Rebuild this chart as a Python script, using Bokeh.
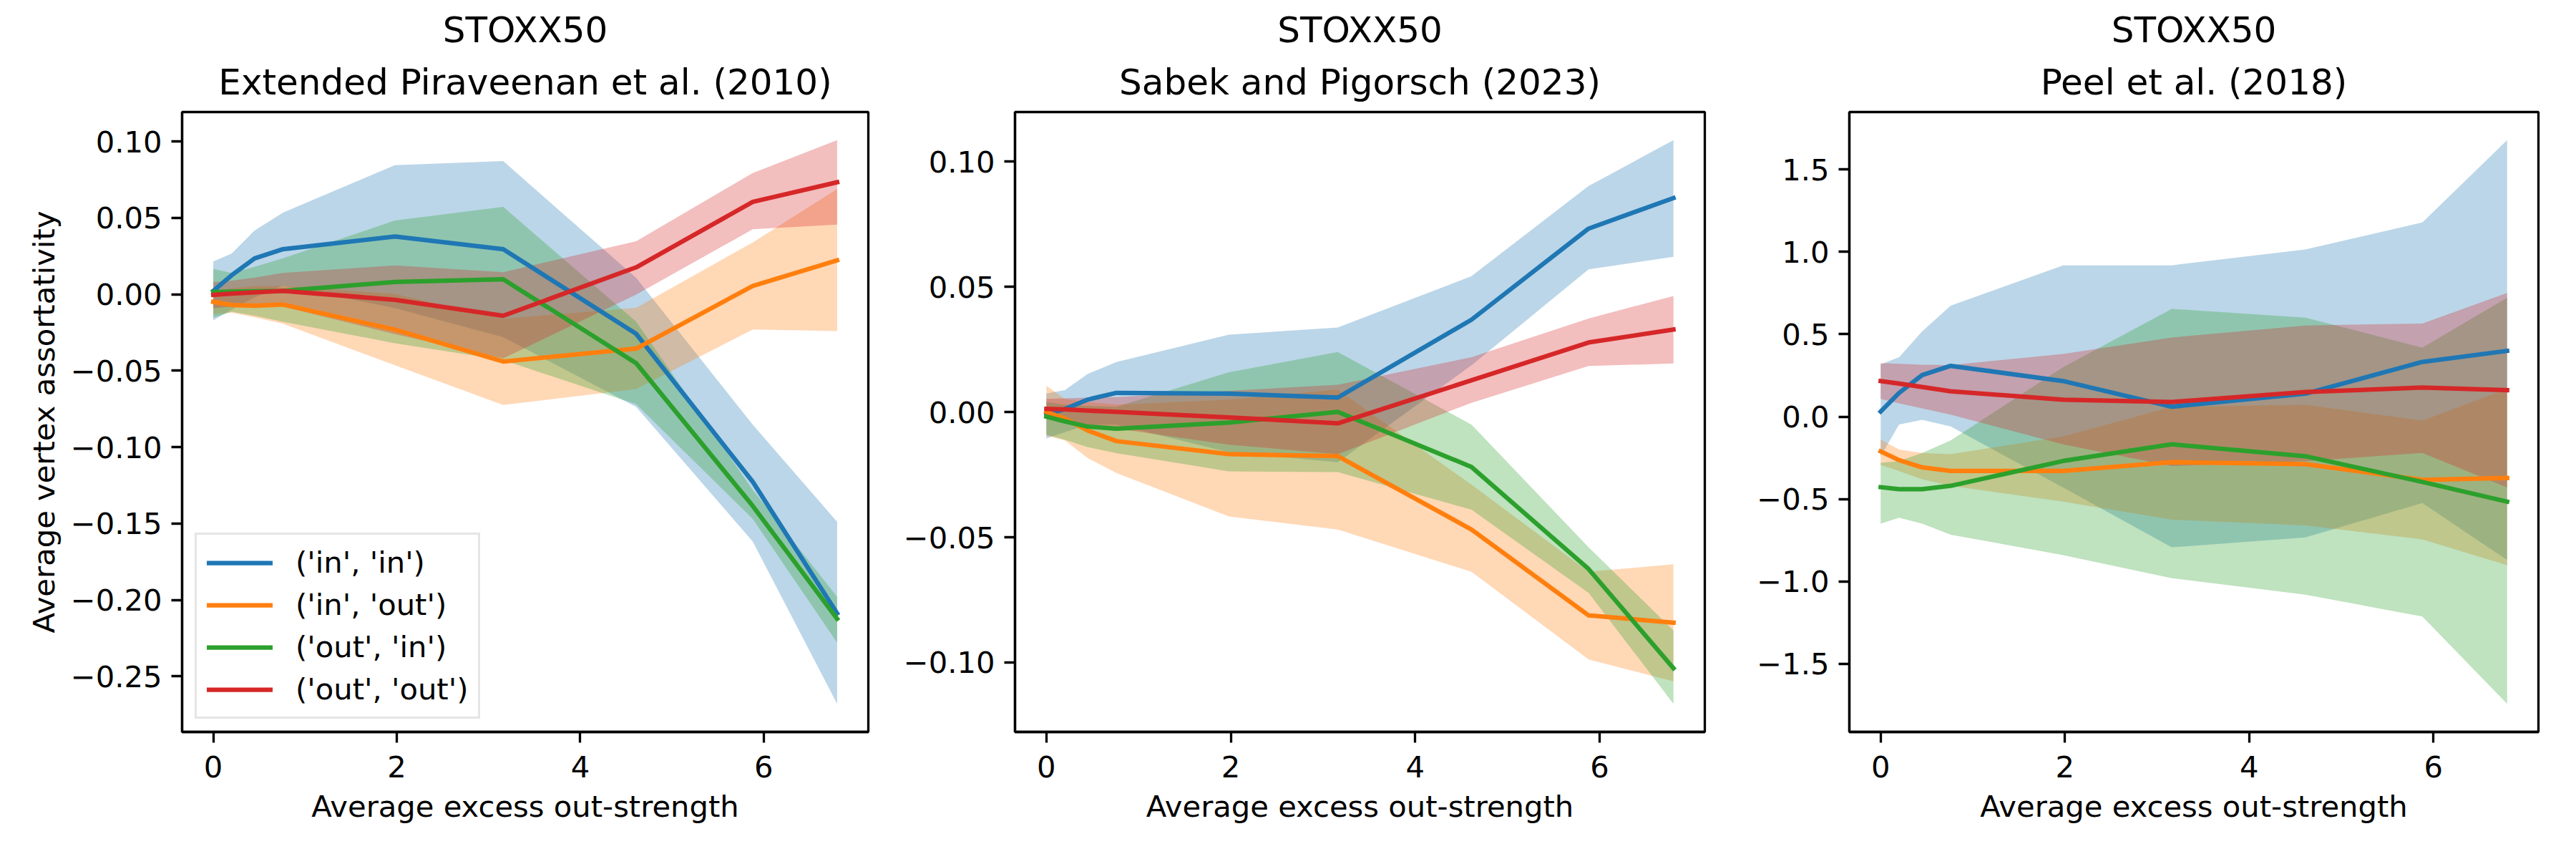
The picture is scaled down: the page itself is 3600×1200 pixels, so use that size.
from bokeh.plotting import figure
from bokeh.layouts import row
from bokeh.models import Range1d, FixedTicker, Legend, LegendItem, Title
from bokeh.embed import file_html
from bokeh.resources import INLINE

FONT = "DejaVu Sans"

# ---------------- data ----------------
x_strength = [0.0, 0.2, 0.45, 0.76, 1.98, 3.16, 4.61, 5.88, 6.80]
series_labels = ["('in', 'in')", "('in', 'out')", "('out', 'in')", "('out', 'out')"]
colors = ["#1f77b4", "#ff7f0e", "#2ca02c", "#d62728"]
x_ticks = [0, 2, 4, 6]
x_label = "Average excess out-strength"
y_label = "Average vertex assortativity"

main_title = "STOXX50"
sub_titles = ["Extended Piraveenan et al. (2010)",
              "Sabek and Pigorsch (2023)",
              "Peel et al. (2018)"]

# Panel 1: Extended Piraveenan et al. (2010)
pir_in_in_mean = [0.0023, 0.0125, 0.0235, 0.0296, 0.0379, 0.0296, -0.0259, -0.1227, -0.2088]
pir_in_in_lo = [-0.017, -0.010, -0.002, 0.0057, -0.009, -0.028, -0.0737, -0.1618, -0.268]
pir_in_in_hi = [0.0215, 0.0267, 0.0418, 0.0535, 0.0846, 0.0872, 0.0107, -0.0853, -0.1489]
pir_in_out_mean = [-0.0049, -0.007, -0.0075, -0.0067, -0.0231, -0.044, -0.0355, 0.0055, 0.0223]
pir_in_out_lo = [-0.013, -0.012, -0.015, -0.0192, -0.0464, -0.0724, -0.062, -0.023, -0.024]
pir_in_out_hi = [0.0016, 0.004, 0.0055, 0.0055, 0.0002, -0.016, -0.0088, 0.034, 0.069]
pir_out_in_mean = [0.0016, 0.0018, 0.002, 0.0023, 0.0081, 0.0099, -0.0451, -0.1385, -0.2124]
pir_out_in_lo = [-0.0153, -0.0114, -0.014, -0.018, -0.032, -0.043, -0.072, -0.147, -0.228]
pir_out_in_hi = [0.0166, 0.014, 0.018, 0.0236, 0.0483, 0.0573, -0.018, -0.128, -0.198]
pir_out_out_mean = [-0.0003, 0.0005, 0.0013, 0.0023, -0.0036, -0.014, 0.0177, 0.0605, 0.0734]
pir_out_out_lo = [-0.009, -0.008, -0.007, -0.008, -0.026, -0.042, -0.0001, 0.0426, 0.0457]
pir_out_out_hi = [0.008, 0.009, 0.011, 0.014, 0.019, 0.0145, 0.0348, 0.0794, 0.1009]

# Panel 2: Sabek and Pigorsch (2023)
sab_in_in_mean = [-0.0010, 0.0012, 0.0050, 0.0077, 0.0074, 0.0058, 0.0369, 0.0733, 0.0855]
sab_in_in_lo = [-0.0105, -0.008, -0.005, -0.005, -0.016, -0.020, 0.0187, 0.057, 0.062]
sab_in_in_hi = [0.0074, 0.0088, 0.0153, 0.020, 0.0309, 0.0338, 0.0543, 0.0903, 0.1086]
sab_in_out_mean = [0.0001, -0.0026, -0.0074, -0.0116, -0.0168, -0.0176, -0.0469, -0.0812, -0.0841]
sab_in_out_lo = [-0.0094, -0.0113, -0.0184, -0.0243, -0.0417, -0.0469, -0.0638, -0.0988, -0.1075]
sab_in_out_hi = [0.0105, 0.0053, 0.004, 0.003, 0.005, 0.009, -0.029, -0.0638, -0.0608]
sab_out_in_mean = [-0.0018, -0.0037, -0.0058, -0.0066, -0.0042, 0.0001, -0.0219, -0.0627, -0.1023]
sab_out_in_lo = [-0.009, -0.011, -0.014, -0.0164, -0.0237, -0.024, -0.039, -0.0722, -0.1165]
sab_out_in_hi = [0.004, 0.003, 0.0025, 0.0021, 0.0159, 0.024, -0.005, -0.054, -0.0872]
sab_out_out_mean = [0.0013, 0.0011, 0.0006, 0.0001, -0.0021, -0.0045, 0.0127, 0.0278, 0.033]
sab_out_out_lo = [-0.0026, -0.003, -0.005, -0.0066, -0.013, -0.0168, 0.0037, 0.0184, 0.0194]
sab_out_out_hi = [0.0053, 0.0055, 0.0058, 0.006, 0.0085, 0.0109, 0.0219, 0.0374, 0.0464]

# Panel 3: Peel et al. (2018)
peel_in_in_mean = [0.031, 0.144, 0.252, 0.308, 0.216, 0.060, 0.139, 0.332, 0.399]
peel_in_in_lo = [-0.24, -0.048, -0.019, -0.060, -0.43, -0.793, -0.733, -0.524, -0.87]
peel_in_in_hi = [0.317, 0.361, 0.517, 0.673, 0.918, 0.918, 1.014, 1.178, 1.677]
peel_in_out_mean = [-0.211, -0.264, -0.308, -0.329, -0.329, -0.276, -0.288, -0.384, -0.372]
peel_in_out_lo = [-0.293, -0.33, -0.38, -0.42, -0.516, -0.625, -0.66, -0.745, -0.901]
peel_in_out_hi = [-0.139, -0.20, -0.22, -0.228, -0.12, 0.06, 0.072, -0.024, 0.168]
peel_out_in_mean = [-0.428, -0.44, -0.44, -0.42, -0.269, -0.168, -0.240, -0.396, -0.516]
peel_out_in_lo = [-0.649, -0.613, -0.649, -0.716, -0.84, -0.98, -1.08, -1.213, -1.742]
peel_out_in_hi = [-0.28, -0.27, -0.22, -0.144, 0.30, 0.654, 0.601, 0.418, 0.721]
peel_out_out_mean = [0.216, 0.20, 0.18, 0.154, 0.103, 0.089, 0.149, 0.176, 0.161]
peel_out_out_lo = [0.108, 0.08, 0.05, 0.012, -0.168, -0.30, -0.27, -0.22, -0.43]
peel_out_out_hi = [0.325, 0.32, 0.315, 0.313, 0.38, 0.48, 0.553, 0.565, 0.75]

y_ticks_1 = [-0.25, -0.20, -0.15, -0.10, -0.05, 0.0, 0.05, 0.10]
y_tick_labels_1 = ["\u22120.25", "\u22120.20", "\u22120.15", "\u22120.10", "\u22120.05", "0.00", "0.05", "0.10"]
y_ticks_2 = [-0.10, -0.05, 0.0, 0.05, 0.10]
y_tick_labels_2 = ["\u22120.10", "\u22120.05", "0.00", "0.05", "0.10"]
y_ticks_3 = [-1.5, -1.0, -0.5, 0.0, 0.5, 1.0, 1.5]
y_tick_labels_3 = ["\u22121.5", "\u22121.0", "\u22120.5", "0.0", "0.5", "1.0", "1.5"]

panels = [
    dict(series=[(pir_in_in_mean, pir_in_in_lo, pir_in_in_hi),
                 (pir_in_out_mean, pir_in_out_lo, pir_in_out_hi),
                 (pir_out_in_mean, pir_out_in_lo, pir_out_in_hi),
                 (pir_out_out_mean, pir_out_out_lo, pir_out_out_hi)],
         yt=y_ticks_1, ytl=y_tick_labels_1),
    dict(series=[(sab_in_in_mean, sab_in_in_lo, sab_in_in_hi),
                 (sab_in_out_mean, sab_in_out_lo, sab_in_out_hi),
                 (sab_out_in_mean, sab_out_in_lo, sab_out_in_hi),
                 (sab_out_out_mean, sab_out_out_lo, sab_out_out_hi)],
         yt=y_ticks_2, ytl=y_tick_labels_2),
    dict(series=[(peel_in_in_mean, peel_in_in_lo, peel_in_in_hi),
                 (peel_in_out_mean, peel_in_out_lo, peel_in_out_hi),
                 (peel_out_in_mean, peel_out_in_lo, peel_out_in_hi),
                 (peel_out_out_mean, peel_out_out_lo, peel_out_out_hi)],
         yt=y_ticks_3, ytl=y_tick_labels_3),
]

# layout geometry (pixels)
geom = [
    dict(width=1253, left=254, right=40),
    dict(width=1166, left=165, right=37),
    dict(width=1158, left=165, right=30),
]
HEIGHT = 1172
TOP = 156
BOTTOM = 150

TICK_FS = "41.7px"
LW = 6.25
SPINE = 3.3


def padded(lo, hi, frac=0.05):
    d = (hi - lo) * frac
    return lo - d, hi + d


figs = []
for i, (pan, g) in enumerate(zip(panels, geom)):
    all_vals = [v for s in pan["series"] for arr in s for v in arr]
    y0, y1 = padded(min(all_vals), max(all_vals))
    x0, x1 = padded(min(x_strength), max(x_strength))
    p = figure(width=g["width"], height=HEIGHT, output_backend="svg", toolbar_location=None,
               x_range=Range1d(x0, x1), y_range=Range1d(y0, y1),
               min_border_left=g["left"], min_border_right=g["right"],
               min_border_top=TOP, min_border_bottom=BOTTOM)
    p.background_fill_color = "white"
    p.border_fill_color = "white"
    p.outline_line_color = "black"
    p.outline_line_width = SPINE
    p.xgrid.visible = False
    p.ygrid.visible = False

    # main title on top, sub-title added below it (closest to the frame)
    p.title.text = main_title
    p.title.align = "center"
    p.title.text_font = FONT
    p.title.text_font_size = "50px"
    p.title.text_font_style = "normal"
    p.title.text_color = "black"
    p.title.text_line_height = 0.8
    p.title.standoff = 0
    t2 = Title(text=sub_titles[i], align="center", text_font=FONT, text_font_size="50px",
               text_font_style="normal", text_color="black", standoff=26)
    p.add_layout(t2, "above")

    for ax in (p.xaxis[0], p.yaxis[0]):
        ax.axis_line_color = "black"
        ax.axis_line_width = SPINE
        ax.major_tick_line_width = SPINE
        ax.major_tick_line_color = "black"
        ax.major_tick_out = 15
        ax.major_tick_in = 0
        ax.minor_tick_line_color = None
        ax.major_label_text_font = FONT
        ax.major_label_text_font_size = TICK_FS
        ax.major_label_text_color = "black"
        ax.major_label_standoff = 13
        ax.axis_label_text_font = FONT
        ax.axis_label_text_font_size = TICK_FS
        ax.axis_label_text_font_style = "normal"
        ax.axis_label_text_color = "black"

    p.xaxis[0].ticker = FixedTicker(ticks=x_ticks)
    p.xaxis[0].major_label_standoff = 18
    p.xaxis[0].axis_label = x_label
    p.xaxis[0].axis_label_standoff = 13
    p.yaxis[0].ticker = FixedTicker(ticks=pan["yt"])
    p.yaxis[0].major_label_overrides = {t: lab for t, lab in zip(pan["yt"], pan["ytl"])}
    if i == 0:
        p.yaxis[0].axis_label = y_label
        p.yaxis[0].axis_label_standoff = 10

    # bands (drawn below all lines, as in the original)
    for (mean, lo, hi), c in zip(pan["series"], colors):
        p.varea(x=x_strength, y1=lo, y2=hi, fill_color=c, fill_alpha=0.3)
    line_renderers = []
    for (mean, lo, hi), c in zip(pan["series"], colors):
        r = p.line(x_strength, mean, line_color=c, line_width=LW,
                   line_join="round", line_cap="square")
        line_renderers.append(r)

    if i == 0:
        legend = Legend(items=[LegendItem(label=lab, renderers=[r])
                               for lab, r in zip(series_labels, line_renderers)],
                        location="bottom_left")
        legend.label_text_font = FONT
        legend.label_text_font_size = TICK_FS
        legend.label_text_color = "black"
        legend.glyph_width = 92
        legend.glyph_height = 40
        legend.label_height = 40
        legend.label_standoff = 32
        legend.spacing = 10
        legend.padding = 14
        legend.margin = 18
        legend.border_line_color = "#cccccc"
        legend.border_line_width = SPINE
        legend.background_fill_color = "white"
        legend.background_fill_alpha = 0.8
        p.add_layout(legend)
    figs.append(p)

layout = row(*figs)
open("out.html", "w").write(file_html(layout, INLINE))
